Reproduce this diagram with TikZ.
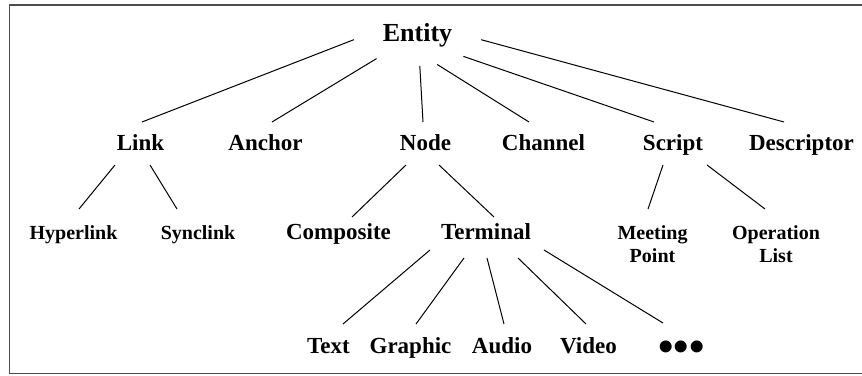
\documentclass[tikz,border=0pt]{standalone}
\usepackage{fontspec}
\setmainfont{Liberation Serif}
\usetikzlibrary{shapes.geometric}
\tikzset{
  % Root of the tree
  RT/.style={ellipse,minimum width=130pt,minimum height=66pt,
             inner sep=0pt,outer sep=0pt,text height=17pt,text depth=0pt,
             font=\fontsize{26}{30}\selectfont\bfseries},
  % Big label
  BL/.style={anchor=base,inner sep=0pt,outer xsep=0pt,outer ysep=14pt,
             text height=15pt,text depth=0pt,
             font=\fontsize{23}{27}\selectfont\bfseries},
  % Small label
  SL/.style={anchor=base,inner sep=0pt,outer xsep=0pt,outer ysep=18pt,
             text height=13pt,align=center,
             font=\fontsize{20}{22.7}\selectfont\bfseries},
  % Small label, two lines
  SL2/.style={SL,text height=35.7pt},
  % Edge
  edg/.style={line width=1pt},
  % Frame
  frm/.style={line width=1.6pt,draw=black!70}
}
\begin{document}
\begin{tikzpicture}[x=1pt,y=1pt]
  \useasboundingbox (0,0) rectangle (862,375);
  \draw[frm] (9.5,1.5) rectangle (866,370);

  \node[RT] (entity) at (417.5,342) {Entity};

  \node[BL] (lnk)  at (140.5,224) {Link};
  \node[BL] (anc)  at (265.5,224) {Anchor};
  \node[BL] (nod)  at (425.5,224) {Node};
  \node[BL] (chan) at (543.5,224) {Channel};
  \node[BL] (scr)  at (673,224)   {Script};
  \node[BL] (desc) at (801.5,224) {Descriptor};

  \node[SL]  (hyp)  at (73.5,135)    {Hyperlink};
  \node[SL]  (sync) at (198,135)     {Synclink};
  \node[BL]  (comp) at (338.5,135)   {Composite};
  \node[BL]  (term) at (486,135)     {Terminal};
  \node[SL2] (meet) at (652.5,112.3) {Meeting\\Point};
  \node[SL2] (oper) at (776,112.3)   {Operation\\List};

  \node[BL] (txt)   at (328.5,22) {Text};
  \node[BL] (graph) at (410.5,22) {Graphic};
  \node[BL] (aud)   at (502,22)   {Audio};
  \node[BL] (vid)   at (588.5,22) {Video};
  \node[BL,font=\fontsize{44}{44}\selectfont\bfseries] (more) at (681.5,14) {•••};

  \draw[edg] (entity.186) -- ([xshift=1.5pt]lnk.north);
  \draw[edg] (entity.212) -- ([xshift=6.5pt]anc.north);
  \draw[edg] (entity.274) -- ([xshift=-2.5pt]nod.north);
  \draw[edg] (entity.302) -- ([xshift=-14.5pt]chan.north);
  \draw[edg] (entity.333) -- ([xshift=-19pt]scr.north);
  \draw[edg] (entity.354) -- ([xshift=-17.5pt]desc.north);

  \draw[edg] ([xshift=-25.5pt]lnk.south) -- ([xshift=5.5pt]hyp.north);
  \draw[edg] ([xshift=9.5pt]lnk.south)   -- ([xshift=-21pt]sync.north);
  \draw[edg] ([xshift=-19.5pt]nod.south) -- ([shift={(13.5pt,-6pt)}]comp.north);
  \draw[edg] ([xshift=13.5pt]nod.south)  -- ([shift={(8pt,-6pt)}]term.north);
  \draw[edg] ([xshift=-10pt]scr.south)   -- ([xshift=-4.5pt]meet.north);
  \draw[edg] ([xshift=34pt]scr.south)    -- ([xshift=-11pt]oper.north);

  \draw[edg] ([shift={(-56pt,4pt)}]term.south) -- ([xshift=14.5pt]txt.north);
  \draw[edg] ([shift={(-22pt,-4pt)}]term.south) -- ([xshift=5.5pt]graph.north);
  \draw[edg] ([shift={(1pt,-4pt)}]term.south)  -- ([xshift=2pt]aud.north);
  \draw[edg] ([shift={(32pt,-4pt)}]term.south) -- ([xshift=-2.5pt]vid.north);
  \draw[edg] ([shift={(58pt,4pt)}]term.south)  -- ([shift={(-18.5pt,9pt)}]more.north);
\end{tikzpicture}
\end{document}
